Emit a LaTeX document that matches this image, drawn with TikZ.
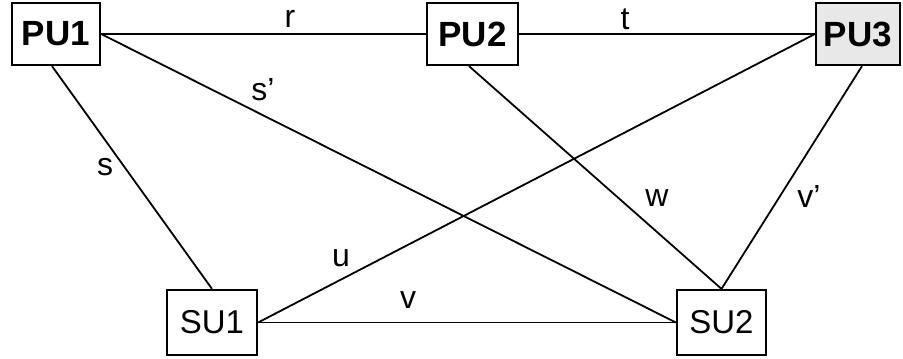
\documentclass[tikz,border=0pt]{standalone}
\usepackage{fontspec}
\setmainfont{Liberation Sans}
\begin{document}
\begin{tikzpicture}[x=1pt,y=-1pt,
  unitbox/.style={draw,line width=2.2pt,rectangle,inner sep=0pt,font=\fontsize{33}{33}\selectfont},
  pubox/.style={unitbox,font=\fontsize{35}{35}\selectfont\bfseries,minimum height=62pt},
  subox/.style={unitbox,minimum height=65pt},
  link/.style={line width=1.8pt},
  lbl/.style={font=\fontsize{32}{32}\selectfont,inner sep=0pt}]
\useasboundingbox (0,0) rectangle (903,359);
\node[pubox,minimum width=88pt] (PU1) at (56,34) {PU1};
\node[pubox,minimum width=91pt] (PU2) at (472.5,34) {PU2};
\node[pubox,minimum width=84pt,fill=gray!18] (PU3) at (858,34) {PU3};
\node[subox,minimum width=90pt] (SU1) at (212,322.5) {SU1};
\node[subox,minimum width=89pt] (SU2) at (721.5,322.5) {SU2};
\draw[link] (PU1.east) -- (PU2.west);
\draw[link] (PU2.east) -- (PU3.west);
\draw[link] (PU1.east) -- (SU2.west);
\draw[link] ([xshift=-4pt]PU1.south) -- (SU1.north);
\draw[link] ([xshift=-3.5pt]PU2.south) -- (SU2.north);
\draw[link] ([xshift=4pt]PU3.south) -- (SU2.north);
\draw[link] (SU1.east) -- (PU3.west);
\draw[link] (SU1.east) -- (SU2.west);
\node[lbl] (lr) at (290,19) {r};
\node[lbl] (lt) at (625,19) {t};
\node[lbl] (lsp) at (263,90) {s'};
\node[lbl] (ls) at (105,167) {s};
\node[lbl] (lu) at (341,258) {u};
\node[lbl] (lv) at (408,300) {v};
\node[lbl] (lw) at (657,198) {w};
\node[lbl] (lvp) at (809,196) {v'};
\end{tikzpicture}
\end{document}
